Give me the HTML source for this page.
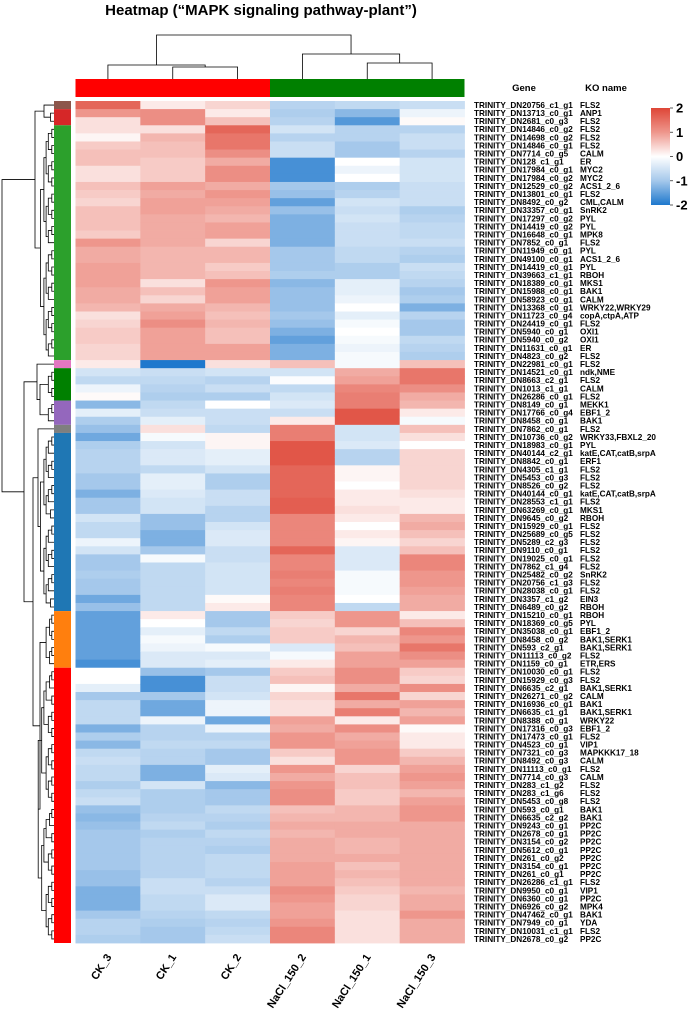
<!DOCTYPE html>
<html><head><meta charset="utf-8"><style>
html,body{margin:0;padding:0;background:#fff}
svg{display:block;font-family:"Liberation Sans",Arial,sans-serif}
</style></head><body>
<svg id="chart" width="690" height="1015" viewBox="0 0 690 1015" xmlns="http://www.w3.org/2000/svg">
<text x="261" y="15" text-anchor="middle" font-size="15" font-weight="bold">Heatmap (“MAPK signaling pathway-plant”)</text>
<text x="524" y="91" text-anchor="middle" font-size="9.5" font-weight="bold">Gene</text>
<text x="606" y="91" text-anchor="middle" font-size="9.5" font-weight="bold">KO name</text>
<g id="colDend" stroke="#000" stroke-width="0.8" fill="none"></g>
<g id="rowDend" stroke="#000" stroke-width="0.8" fill="none"></g>
<g id="groupBar"></g>
<g id="clusterBar"></g>
<g id="cells"></g>
<g id="labels" font-size="8.2" font-weight="bold"></g>
<g id="colLabels" font-size="11" font-weight="bold"></g>
<defs><linearGradient id="lg" x1="0" y1="0" x2="0" y2="1">
<stop offset="0" stop-color="rgb(222,70,55)"/><stop offset="0.25" stop-color="rgb(238,150,140)"/><stop offset="0.5" stop-color="#fff"/><stop offset="0.75" stop-color="rgb(165,200,235)"/><stop offset="1" stop-color="rgb(30,120,205)"/></linearGradient></defs>
<g id="legend">
<rect x="651" y="108" width="19" height="97" fill="url(#lg)"/>
</g>
</svg>
<script>
const columns = ["CK_3","CK_1","CK_2","NaCl_150_2","NaCl_150_1","NaCl_150_3"];
const genes = ["TRINITY_DN20756_c1_g1","TRINITY_DN13713_c0_g1","TRINITY_DN2681_c0_g3","TRINITY_DN14846_c0_g2","TRINITY_DN14698_c0_g2","TRINITY_DN14846_c0_g1","TRINITY_DN7714_c0_g5","TRINITY_DN128_c1_g1","TRINITY_DN17984_c0_g1","TRINITY_DN17984_c0_g2","TRINITY_DN12529_c0_g2","TRINITY_DN13801_c0_g1","TRINITY_DN8492_c0_g2","TRINITY_DN33357_c0_g1","TRINITY_DN17297_c0_g2","TRINITY_DN14419_c0_g2","TRINITY_DN16648_c0_g1","TRINITY_DN7852_c0_g1","TRINITY_DN11949_c0_g1","TRINITY_DN49100_c0_g1","TRINITY_DN14419_c0_g1","TRINITY_DN39663_c1_g1","TRINITY_DN18389_c0_g1","TRINITY_DN15988_c0_g1","TRINITY_DN58923_c0_g1","TRINITY_DN13368_c0_g1","TRINITY_DN11723_c0_g4","TRINITY_DN24419_c0_g1","TRINITY_DN5940_c0_g1","TRINITY_DN5940_c0_g2","TRINITY_DN11631_c0_g1","TRINITY_DN4823_c0_g2","TRINITY_DN22981_c0_g1","TRINITY_DN14521_c0_g1","TRINITY_DN8663_c2_g1","TRINITY_DN1013_c1_g1","TRINITY_DN26286_c0_g1","TRINITY_DN8149_c0_g1","TRINITY_DN17766_c0_g4","TRINITY_DN8458_c0_g1","TRINITY_DN7862_c0_g1","TRINITY_DN10736_c0_g2","TRINITY_DN18983_c0_g1","TRINITY_DN40144_c2_g1","TRINITY_DN8842_c0_g1","TRINITY_DN4305_c1_g1","TRINITY_DN5453_c0_g3","TRINITY_DN8526_c0_g2","TRINITY_DN40144_c0_g1","TRINITY_DN28553_c1_g1","TRINITY_DN63269_c0_g1","TRINITY_DN9645_c0_g2","TRINITY_DN15929_c0_g1","TRINITY_DN25689_c0_g5","TRINITY_DN5289_c2_g3","TRINITY_DN9110_c0_g1","TRINITY_DN19025_c0_g1","TRINITY_DN7862_c1_g4","TRINITY_DN25482_c0_g2","TRINITY_DN20756_c1_g3","TRINITY_DN28038_c0_g1","TRINITY_DN3357_c1_g2","TRINITY_DN6489_c0_g2","TRINITY_DN15210_c0_g1","TRINITY_DN18369_c0_g5","TRINITY_DN35038_c0_g1","TRINITY_DN8458_c0_g2","TRINITY_DN593_c2_g1","TRINITY_DN11113_c0_g2","TRINITY_DN1159_c0_g1","TRINITY_DN10030_c0_g1","TRINITY_DN15929_c0_g3","TRINITY_DN6635_c2_g1","TRINITY_DN26271_c0_g2","TRINITY_DN16936_c0_g1","TRINITY_DN6635_c1_g1","TRINITY_DN8388_c0_g1","TRINITY_DN17316_c0_g3","TRINITY_DN17473_c0_g1","TRINITY_DN4523_c0_g1","TRINITY_DN7321_c0_g3","TRINITY_DN8492_c0_g3","TRINITY_DN11113_c0_g1","TRINITY_DN7714_c0_g3","TRINITY_DN283_c1_g2","TRINITY_DN283_c1_g6","TRINITY_DN5453_c0_g8","TRINITY_DN593_c0_g1","TRINITY_DN6635_c2_g2","TRINITY_DN9243_c0_g1","TRINITY_DN2678_c0_g1","TRINITY_DN3154_c0_g2","TRINITY_DN5612_c0_g1","TRINITY_DN261_c0_g2","TRINITY_DN3154_c0_g1","TRINITY_DN261_c0_g1","TRINITY_DN26286_c1_g1","TRINITY_DN9950_c0_g1","TRINITY_DN6360_c0_g1","TRINITY_DN6926_c0_g2","TRINITY_DN47462_c0_g1","TRINITY_DN7949_c0_g1","TRINITY_DN10031_c1_g1","TRINITY_DN2678_c0_g2"];
const koNames = ["FLS2","ANP1","FLS2","FLS2","FLS2","FLS2","CALM","ER","MYC2","MYC2","ACS1_2_6","FLS2","CML,CALM","SnRK2","PYL","PYL","MPK8","FLS2","PYL","ACS1_2_6","PYL","RBOH","MKS1","BAK1","CALM","WRKY22,WRKY29","copA,ctpA,ATP","FLS2","OXI1","OXI1","ER","FLS2","FLS2","ndk,NME","FLS2","CALM","FLS2","MEKK1","EBF1_2","BAK1","FLS2","WRKY33,FBXL2_20","PYL","katE,CAT,catB,srpA","ERF1","FLS2","FLS2","FLS2","katE,CAT,catB,srpA","FLS2","MKS1","RBOH","FLS2","FLS2","FLS2","FLS2","FLS2","FLS2","SnRK2","FLS2","FLS2","EIN3","RBOH","RBOH","PYL","EBF1_2","BAK1,SERK1","BAK1,SERK1","FLS2","ETR,ERS","FLS2","FLS2","BAK1,SERK1","CALM","BAK1","BAK1,SERK1","WRKY22","EBF1_2","FLS2","VIP1","MAPKKK17_18","CALM","FLS2","CALM","FLS2","FLS2","FLS2","BAK1","BAK1","PP2C","PP2C","PP2C","PP2C","PP2C","PP2C","PP2C","FLS2","VIP1","PP2C","MPK4","BAK1","YDA","FLS2","PP2C"];
const colCK3 = [1.6,1.0,0.3,0.3,0.1,0.5,0.6,0.6,0.3,0.3,0.6,0.5,0.4,0.6,0.6,0.6,0.5,1.0,0.8,0.8,0.9,0.9,0.9,0.8,0.8,0.7,0.3,0.4,0.5,0.5,0.4,0.4,0.2,-0.5,-0.7,-0.2,0.05,-1.2,-0.3,-0.9,-1.1,-1.4,-0.9,-0.8,-0.8,-0.8,-1.0,-1.0,-1.3,-1.0,-1.0,-0.5,-0.7,-0.7,-0.2,-0.5,-1.0,-1.0,-0.9,-1.0,-1.0,-1.4,-1.1,-1.5,-1.5,-1.5,-1.5,-1.5,-1.5,-1.7,0.0,0.0,-0.3,-1.0,-0.7,-0.7,-0.7,-1.3,-0.9,-1.2,-0.7,-0.6,-0.7,-0.7,-0.9,-0.7,-0.6,-1.1,-1.2,-1.1,-1.0,-1.0,-1.0,-1.0,-1.0,-1.1,-1.1,-1.3,-1.3,-1.3,-1.0,-0.8,-0.8,-0.9];
const colCK1 = [0.2,1.1,1.1,0.3,0.7,0.6,0.6,0.5,0.5,0.5,0.9,0.8,0.9,0.9,0.8,0.8,0.8,0.8,0.7,0.7,0.7,0.7,0.3,0.6,0.4,0.8,0.9,1.1,0.9,0.9,0.9,0.9,-2.0,-0.6,-0.7,-0.8,-0.9,-0.7,-0.6,-0.3,0.3,-0.1,-0.5,-0.4,-0.4,-0.7,-0.3,-0.3,-0.4,-0.5,-0.5,-1.1,-1.1,-1.3,-1.3,-1.0,-0.1,-0.7,-0.7,-0.7,-0.7,-0.7,-0.7,0.2,0.0,-0.3,-0.1,-0.2,-0.4,-0.4,-1.1,-1.7,-1.7,-1.0,-1.4,-1.4,-0.2,-0.8,-0.8,-0.7,-0.8,-0.8,-1.3,-1.3,-0.5,-0.9,-0.9,-0.9,-0.8,-0.7,-0.9,-0.8,-0.8,-0.8,-0.8,-0.8,-0.6,-0.6,-0.7,-0.7,-0.8,-0.9,-1.0,-1.0];
const colCK2 = [0.4,0.2,0.6,1.6,1.4,1.4,1.1,0.8,1.1,1.1,0.8,1.0,0.9,0.8,0.7,0.9,0.9,0.4,0.7,0.7,0.5,0.6,1.0,0.9,0.9,0.7,0.6,0.7,0.6,0.6,0.9,0.9,0.3,-0.5,-0.8,-0.6,-0.9,0.0,-0.6,-0.6,-0.7,0.1,0.1,-0.3,-0.3,-0.5,-0.9,-0.9,-0.6,-0.6,-0.8,-0.8,-0.5,-0.4,-0.4,-0.6,-0.6,-0.5,-0.5,-0.5,-0.5,0.05,0.2,-1.0,-1.0,-0.7,-0.9,-0.1,-0.4,-0.3,-1.0,-0.6,-0.6,-0.5,-0.2,-0.2,-1.4,-0.2,-0.8,-0.7,-1.0,-1.0,-0.3,-0.4,-1.2,-1.0,-1.0,-0.7,-0.8,-0.9,-0.7,-0.8,-0.9,-0.7,-0.7,-0.7,-0.8,-0.6,-0.4,-0.4,-0.7,-0.8,-0.7,-0.6];
const colN2 = [-0.8,-0.9,-0.8,-0.5,-0.8,-0.6,-0.6,-1.7,-1.7,-1.7,-1.0,-1.1,-1.5,-1.1,-1.3,-1.3,-1.3,-1.3,-1.0,-1.0,-1.0,-0.9,-1.2,-1.1,-1.1,-1.1,-1.0,-1.1,-1.3,-1.5,-1.3,-1.3,0.6,-0.5,-0.05,-0.7,-0.5,-0.4,-0.6,0.2,1.3,1.3,1.8,1.8,1.8,1.6,1.6,1.6,1.6,1.7,1.7,1.2,1.2,1.2,1.2,1.6,1.2,1.2,1.3,1.2,1.3,1.2,1.2,0.5,0.4,0.5,0.5,-0.4,-0.1,0.2,0.5,0.6,0.1,0.4,0.3,0.3,0.9,0.8,1.0,1.0,0.5,0.3,1.0,0.8,1.0,1.1,1.1,0.6,0.7,0.8,0.7,0.8,0.8,0.8,0.9,0.9,0.9,1.1,1.0,0.9,0.9,1.0,1.2,1.2];
const colN1 = [-0.7,-1.2,-1.6,-0.8,-0.8,-1.0,-1.0,0.0,-0.2,0.0,-0.9,-0.8,-0.5,-0.6,-0.5,-0.6,-0.6,-0.6,-0.7,-0.7,-0.9,-0.9,-0.3,-0.3,-0.2,0.0,-0.3,-0.1,0.0,-0.1,-0.2,-0.1,-0.1,0.8,0.9,1.2,1.3,1.3,1.8,1.8,-0.5,-0.5,-0.4,-0.8,-0.8,0.1,0.1,0.0,0.2,0.2,0.3,0.2,0.0,0.2,0.1,-0.4,-0.4,-0.4,-0.1,-0.1,-0.1,0.0,-0.7,1.0,1.0,0.4,0.7,0.6,0.9,0.9,1.1,1.1,0.8,1.4,0.8,1.3,0.2,1.1,0.8,0.9,1.0,1.0,0.4,0.6,0.6,0.5,0.5,0.7,0.7,0.8,0.8,0.7,0.7,0.8,0.6,0.7,0.6,0.5,0.4,0.4,0.3,0.3,0.3,0.3];
const colN3 = [-0.6,-0.2,0.05,-0.8,-0.6,-0.6,-0.8,-0.5,-0.5,-0.5,-0.6,-0.6,-0.6,-0.9,-0.8,-0.7,-0.7,-0.6,-0.8,-0.9,-0.6,-0.7,-0.8,-1.0,-0.9,-1.3,-0.8,-1.0,-1.0,-0.7,-0.8,-0.9,0.6,1.4,1.4,1.1,0.8,0.7,0.2,-0.1,0.6,0.3,0.0,0.4,0.4,0.4,0.4,0.4,0.3,0.2,0.2,0.7,0.8,0.6,0.4,0.6,1.2,1.2,1.0,1.0,0.9,0.8,0.8,0.2,0.6,1.2,1.0,1.4,1.1,0.9,0.5,0.4,1.1,0.4,0.9,0.7,0.9,0.05,0.2,0.2,0.5,0.7,0.9,1.0,0.9,0.7,0.9,1.0,1.0,0.8,0.8,0.8,0.8,0.8,0.8,0.8,0.8,0.7,0.8,0.8,1.0,0.8,0.8,0.8];
const clusterNames = ["brown","red-a","green-a","pink","dark-green","purple","gray","blue","orange","red-b"];
const clusterSizes = [1,2,29,1,4,3,1,22,7,34];
const legendTicks = [2,1,0,-1,-2];
</script>
<script>
(function(){
const NS="http://www.w3.org/2000/svg";
const X0=75.5, X1=464.5, Y0=101, Y1=943;
const nRows=genes.length, nCols=columns.length;
const cw=(X1-X0)/nCols, rh=(Y1-Y0)/nRows;
const xCol=i=>X0+i*cw, yRow=r=>Y0+r*rh;
const series=[colCK3,colCK1,colCK2,colN2,colN1,colN3];
const stops=[[-2,[30,120,205]],[-1,[165,200,235]],[0,[255,255,255]],[1,[238,150,140]],[2,[222,70,55]]];
function color(v){if(typeof v!=='number'||isNaN(v))v=0;v=Math.max(-2,Math.min(2,v));for(let i=0;i<4;i++){const a=stops[i],b=stops[i+1];if(v<=b[0]){const t=(v-a[0])/(b[0]-a[0]);const c=a[1].map((x,k)=>Math.round(x+(b[1][k]-x)*t));return `rgb(${c})`;}}return "rgb(222,70,55)";}
function mk(tag,attrs,parent){const e=document.createElementNS(NS,tag);for(const k in attrs)e.setAttribute(k,attrs[k]);parent.appendChild(e);return e;}
const cells=document.getElementById('cells');
for(let c=0;c<nCols;c++)for(let r=0;r<nRows;r++){
 const e=mk('rect',{x:xCol(c),y:yRow(r),width:cw+0.4,height:rh+0.4,fill:color(series[c][r])},cells);
 
 
}
const lab=document.getElementById('labels');
for(let r=0;r<nRows;r++){
 const y=yRow(r)+rh/2+2.9;
 const g=mk('text',{x:474,y:y},lab);g.textContent=genes[r];
 
 
 const k=mk('text',{x:580,y:y},lab);k.textContent=koNames[r];
 
 
}
const cl=document.getElementById('colLabels');
for(let c=0;c<nCols;c++){
 const cx=xCol(c)+cw/2+4;
 const t=mk('text',{x:cx,y:957,'text-anchor':'end',transform:`rotate(-57 ${cx} 957)`},cl);t.textContent=columns[c];
 
 
}
const gb=document.getElementById('groupBar');
const g1=mk('rect',{x:X0,y:79,width:3*cw,height:18,fill:'#ff0000'},gb);


const g2=mk('rect',{x:X0+3*cw,y:79,width:3*cw,height:18,fill:'#008000'},gb);


const clColors={"brown":"#8c564b","red-a":"#d62728","green-a":"#2ca02c","pink":"#e377c2","dark-green":"#008000","purple":"#9467bd","gray":"#7f7f7f","blue":"#1f77b4","orange":"#ff7f0e","red-b":"#ff0000"};
const cb=document.getElementById('clusterBar');
let start=0;const ranges=[];
clusterNames.forEach((n,i)=>{
 const e=mk('rect',{x:54,y:yRow(start),width:17,height:clusterSizes[i]*rh,fill:clColors[n]},cb);
 
 
 ranges.push([start,start+clusterSizes[i]-1]);start+=clusterSizes[i];
});
const cd=document.getElementById('colDend');
const cc=i=>xCol(i)+cw/2;
function ul(x1,x2,yTop,y1,y2){mk('path',{d:`M${x1},${y1}V${yTop}H${x2}V${y2}`},cd);}
ul(cc(1),cc(2),67,79,79);
ul(cc(0),(cc(1)+cc(2))/2,65,79,67);
ul(cc(4),cc(5),63,79,79);
ul(cc(3),(cc(4)+cc(5))/2,54,79,63);
ul((cc(0)+(cc(1)+cc(2))/2)/2,(cc(3)+(cc(4)+cc(5))/2)/2,35,65,54);
const rd=document.getElementById('rowDend');
function link(a,b,x){mk('path',{d:`M${a.x},${a.y}H${x}V${b.y}H${b.x}`},rd);return {x:x,y:(a.y+b.y)/2};}
function build(lo,hi,depth){
 if(lo===hi)return {x:54,y:yRow(lo)+rh/2};
 const mid=Math.floor((lo+hi)/2);
 const a=build(lo,mid,depth+1),b=build(mid+1,hi,depth+1);
 const x=Math.min(a.x,b.x)-(depth%3===0?3.5:2.2);
 return link(a,b,x);
}
const n=ranges.map(r=>build(r[0],r[1],0));
const nb=link(n[0],n[1],44);
const topNode=link(nb,n[2],35);
const ndp=link(n[4],n[5],40);
const npd=link(n[3],ndp,37);
const ngb=link(n[6],n[7],38);
const nor=link(n[8],n[9],40);
const nrest=link(ngb,nor,33);
const bottomNode=link(npd,nrest,24);
link(topNode,bottomNode,2);
const lgd=document.getElementById('legend');
legendTicks.forEach(v=>{
 const y=108+(2-v)/4*97;
 const l=mk('line',{x1:670,x2:673,y1:y,y2:y,stroke:'#333','stroke-width':0.8},lgd);
 
 
 const t=mk('text',{x:676,y:y+4.5,'font-size':13,'font-weight':'bold'},lgd);t.textContent=String(v);
 
 
});
})();
</script>
</body></html>
